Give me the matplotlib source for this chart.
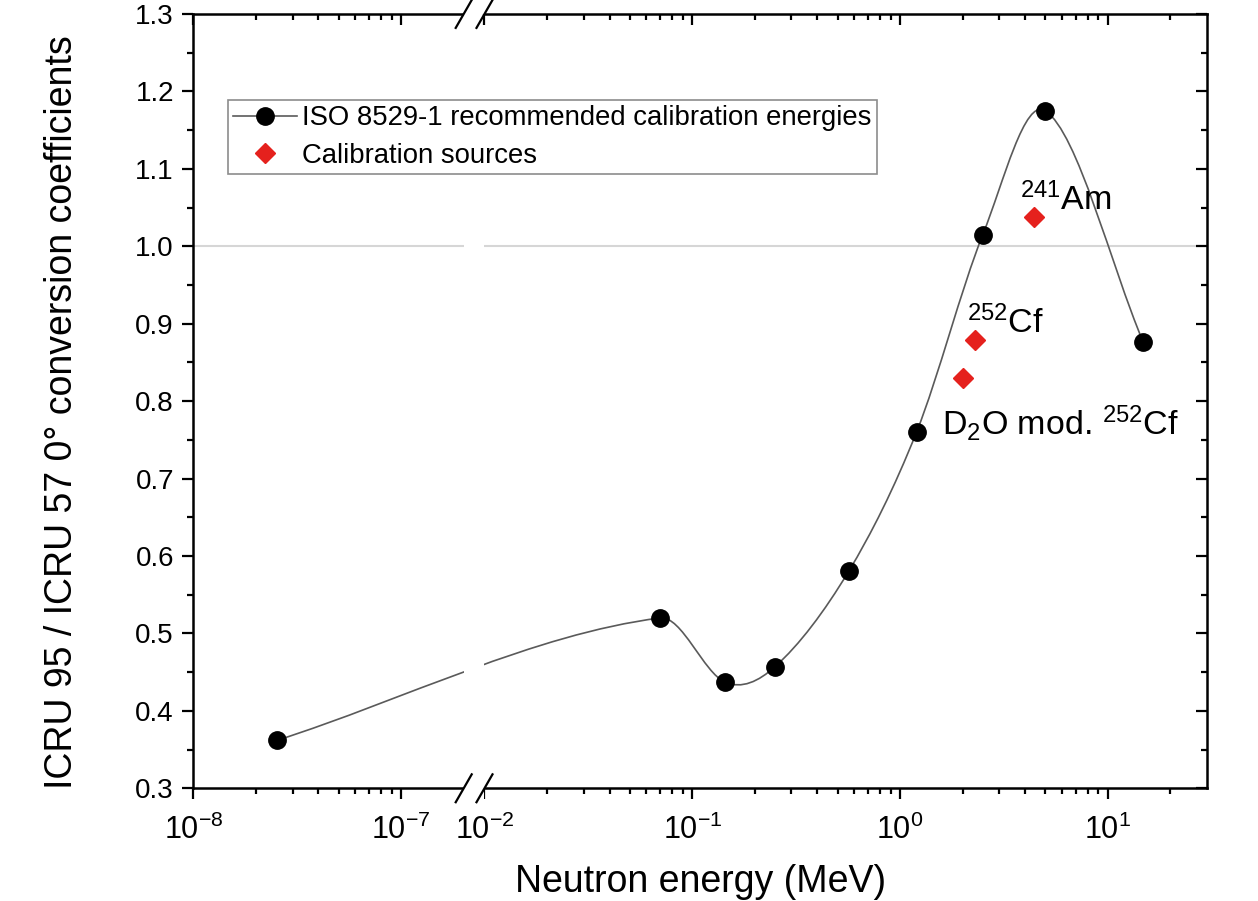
#!/usr/bin/env python3
"""ICRU 95 / ICRU 57 conversion coefficient ratio vs neutron energy (broken log axis)."""

import matplotlib

matplotlib.use("Agg")
import matplotlib.pyplot as plt
import numpy as np
from matplotlib.lines import Line2D
from matplotlib.patches import PathPatch
from matplotlib.path import Path
from matplotlib.ticker import FixedFormatter, FixedLocator

# ISO 8529-1 recommended calibration energies (MeV) and ratio
iso_energy = [2.53e-8, 0.07, 0.144, 0.25, 0.565, 1.2, 2.5, 5.0, 14.8]
iso_ratio = [0.362, 0.520, 0.437, 0.457, 0.580, 0.760, 1.015, 1.175, 0.876]

# calibration sources
source_names = [r"$\mathregular{^{241}}$Am", r"$\mathregular{^{252}}$Cf",
                r"D$\mathregular{_2}$O mod. $\mathregular{^{252}}$Cf"]
source_energy = [4.4, 2.3, 2.0]
source_ratio = [1.038, 0.879, 0.830]
source_label_offset = [(-10, 5), (-6, 5), (-15, -41)]  # points

x_major = [1e-8, 1e-7, 1e-2, 1e-1, 1, 10]
x_major_labels = [r"$\mathregular{10^{-8}}$", r"$\mathregular{10^{-7}}$",
                  r"$\mathregular{10^{-2}}$", r"$\mathregular{10^{-1}}$",
                  r"$\mathregular{10^{0}}$", r"$\mathregular{10^{1}}$"]
x_minor = ([k * 1e-8 for k in range(2, 10)] + [k * 1e-2 for k in range(2, 10)]
           + [k * 1e-1 for k in range(2, 10)] + [k * 1.0 for k in range(2, 10)] + [20])
y_major = [0.3, 0.4, 0.5, 0.6, 0.7, 0.8, 0.9, 1.0, 1.1, 1.2, 1.3]
y_minor = [0.35, 0.45, 0.55, 0.65, 0.75, 0.85, 0.95, 1.05, 1.15, 1.25]

# axis break between these energies
BREAK_LO, BREAK_HI = 2e-7, 1e-2
GAP = 0.1  # width of the break, in decades
LO, HI = np.log10(BREAK_LO), np.log10(BREAK_HI)


def fwd(x):
    u = np.log10(np.clip(np.asarray(x, float), 1e-300, None))
    return np.where(u < (LO + HI) / 2, u, u - HI + LO + GAP)


def inv(p):
    p = np.asarray(p, float)
    return np.where(p < LO + GAP / 2, 10.0 ** p, 10.0 ** (p - LO - GAP + HI))


def smooth_path(xs, ys):
    """Cubic Hermite (Catmull-Rom) curve through the points, built in scale space."""
    p = fwd(xs)
    y = np.asarray(ys, float)
    h = np.diff(p)
    d = np.diff(y) / h
    m = np.empty_like(y)
    m[1:-1] = (y[2:] - y[:-2]) / (p[2:] - p[:-2])
    m[0], m[-1] = d[0], d[-1]
    verts = [(p[0], y[0])]
    codes = [Path.MOVETO]
    for k in range(len(p) - 1):
        verts += [(p[k] + h[k] / 3, y[k] + m[k] * h[k] / 3),
                  (p[k + 1] - h[k] / 3, y[k + 1] - m[k + 1] * h[k] / 3),
                  (p[k + 1], y[k + 1])]
        codes += [Path.CURVE4] * 3
    verts = np.array(verts)
    verts[:, 0] = inv(verts[:, 0])
    return Path(verts, codes)


plt.rcParams["font.family"] = ["Liberation Sans", "DejaVu Sans"]
plt.rcParams["mathtext.fontset"] = "custom"
plt.rcParams["mathtext.rm"] = "Liberation Sans"
plt.rcParams["mathtext.it"] = "Liberation Sans:italic"
plt.rcParams["mathtext.bf"] = "Liberation Sans:bold"

fig = plt.figure(figsize=(12.58, 9.01), dpi=100)
ax = fig.add_axes([0.1537, 0.1251, 0.8058, 0.8594])
ax.set_xscale("function", functions=(fwd, inv))

ax.axhline(1.0, color="#d6d6d6", lw=1.5, zorder=1)
ax.add_patch(PathPatch(smooth_path(iso_energy, iso_ratio), fill=False,
                       edgecolor="#5a5a5a", lw=1.2, zorder=2))
ax.plot(iso_energy, iso_ratio, ls="none", marker="o", ms=12.5,
        mfc="black", mec="black", zorder=4)
ax.plot(source_energy, source_ratio, ls="none", marker="D", ms=10,
        mfc="#e5211d", mec="#e5211d", zorder=4)

for name, e, r, off in zip(source_names, source_energy, source_ratio, source_label_offset):
    ax.annotate(name, xy=(e, r), xytext=off, textcoords="offset points",
                fontsize=24.5, ha="left", va="baseline")

ax.set_xlim(1e-8, 30)
ax.set_ylim(0.3, 1.3)

# white band hides everything inside the break
band = ax.axvspan(BREAK_LO, BREAK_HI, ymin=-0.03, ymax=1.03, color="white",
                  lw=0, zorder=3)
band.set_clip_on(False)

# break marks on top and bottom spines
slant = 10 ** (8 / 207.8)
for xb in (BREAK_LO, BREAK_HI):
    for yb in (0.0, 1.0):
        ax.plot([xb / slant, xb * slant], [yb - 0.018, yb + 0.018],
                transform=ax.get_xaxis_transform(), color="black", lw=1.6,
                clip_on=False, zorder=6)

for s in ax.spines.values():
    s.set_linewidth(1.8)

ax.xaxis.set_major_locator(FixedLocator(x_major))
ax.xaxis.set_major_formatter(FixedFormatter(x_major_labels))
ax.xaxis.set_minor_locator(FixedLocator(x_minor))
ax.yaxis.set_major_locator(FixedLocator(y_major))
ax.yaxis.set_major_formatter(FixedFormatter([f"{v:.1f}" for v in y_major]))
ax.yaxis.set_minor_locator(FixedLocator(y_minor))
ax.tick_params(which="both", direction="out", top=False, right=False,
               labelsize=20, width=1.6, pad=6)
ax.tick_params(axis="x", which="major", labelsize=22, pad=11)
ax.tick_params(which="major", length=8)
ax.tick_params(which="minor", length=4.5)

# inward ticks on the top and right sides
ax_t = ax.twiny()
ax_t.set_xscale("function", functions=(fwd, inv))
ax_t.set_xlim(1e-8, 30)
ax_t.xaxis.set_major_locator(FixedLocator(x_major))
ax_t.xaxis.set_minor_locator(FixedLocator(x_minor))
ax_r = ax.twinx()
ax_r.set_ylim(0.3, 1.3)
ax_r.yaxis.set_major_locator(FixedLocator(y_major))
ax_r.yaxis.set_minor_locator(FixedLocator(y_minor))
for a in (ax_t, ax_r):
    for s in a.spines.values():
        s.set_visible(False)
    a.tick_params(which="both", direction="in", labeltop=False, labelright=False,
                  width=1.6)
    a.tick_params(which="major", length=8)
    a.tick_params(which="minor", length=4.5)

ax.set_xlabel("Neutron energy (MeV)", fontsize=27)
ax.set_ylabel("ICRU 95 / ICRU 57 0\u00b0 conversion coefficients", fontsize=27)
ax.xaxis.set_label_coords(0.5, -0.098)
ax.yaxis.set_label_coords(-0.112, 0.486)

handles = [
    Line2D([], [], color="#5a5a5a", lw=1.2, marker="o", ms=12.5, mfc="black", mec="black"),
    Line2D([], [], ls="none", marker="D", ms=10, mfc="#e5211d", mec="#e5211d"),
]
leg = ax.legend(handles, ["ISO 8529-1 recommended calibration energies", "Calibration sources"],
                loc="upper left", bbox_to_anchor=(0.034, 0.889), borderaxespad=0,
                fontsize=19.8, frameon=True, fancybox=False, framealpha=1,
                edgecolor="#8c8c8c", handlelength=2.3, handletextpad=0.2,
                borderpad=0.2, labelspacing=0.42, numpoints=1)
leg.get_frame().set_linewidth(1.2)
leg.set_zorder(7)

fig.savefig("out.png", dpi=100)
